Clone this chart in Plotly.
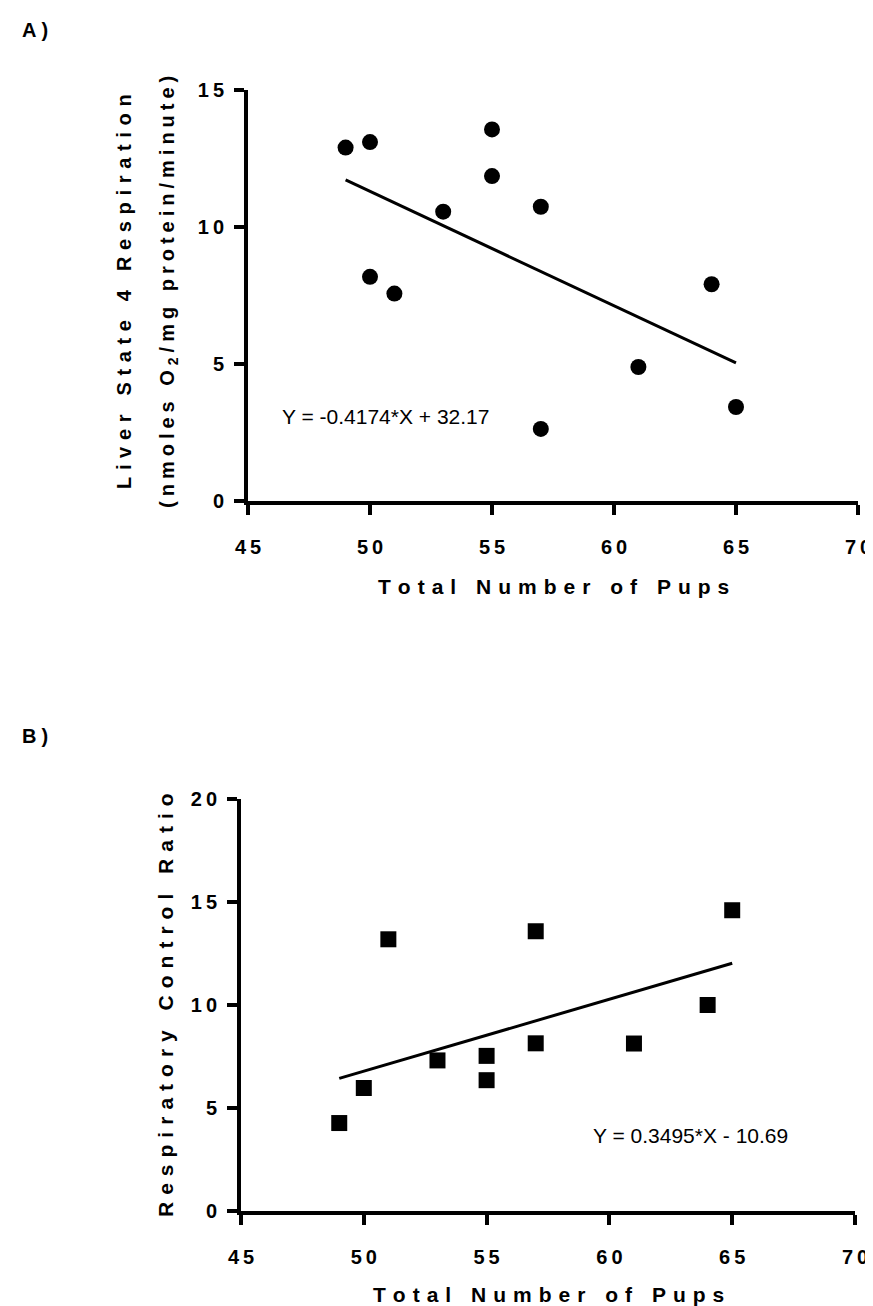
import plotly.graph_objects as go

# ---------------- data ----------------
pups_a = [49, 50, 50, 51, 53, 55, 55, 57, 57, 61, 64, 65]
state4_resp = [12.9, 13.1, 8.18, 7.57, 10.56, 13.56, 11.86, 10.74, 2.63, 4.89, 7.91, 3.43]
slope_a, intercept_a = -0.4174, 32.17

pups_b = [49, 50, 51, 53, 55, 55, 57, 57, 61, 64, 65]
rcr = [4.27, 5.97, 13.19, 7.31, 7.53, 6.35, 13.58, 8.14, 8.13, 10.0, 14.6]
slope_b, intercept_b = 0.3495, -10.69

x_ticks = [45, 50, 55, 60, 65, 70]
y_ticks_a = [0, 5, 10, 15]
y_ticks_b = [0, 5, 10, 15, 20]

eq_a = "Y = -0.4174*X + 32.17"
eq_b = "Y = 0.3495*X - 10.69"

FONT = "Liberation Sans, Arial, Helvetica, sans-serif"
SEP = "\u2004"      # letter spacing for titles
SEP2 = "\u2005"     # tighter spacing
TSEP = "\u2009"     # letter spacing for tick labels


def spaced(s, sep=SEP):
    return sep.join("\u00a0" if c == " " else c for c in s)


def tick_text(vals):
    return [spaced(str(v), TSEP) for v in vals]


W, H = 873, 1306
fig = go.Figure()

# Panel A
fig.add_trace(go.Scatter(x=pups_a, y=state4_resp, mode="markers",
                         marker=dict(symbol="circle", size=16, color="black", line=dict(width=0)),
                         xaxis="x", yaxis="y", showlegend=False))
xa = [min(pups_a), max(pups_a)]
fig.add_trace(go.Scatter(x=xa, y=[slope_a * v + intercept_a for v in xa], mode="lines",
                         line=dict(color="black", width=3), xaxis="x", yaxis="y", showlegend=False))

# Panel B
fig.add_trace(go.Scatter(x=pups_b, y=rcr, mode="markers",
                         marker=dict(symbol="square", size=16, color="black", line=dict(width=0)),
                         xaxis="x2", yaxis="y2", showlegend=False))
xb = [min(pups_b), max(pups_b)]
fig.add_trace(go.Scatter(x=xb, y=[slope_b * v + intercept_b for v in xb], mode="lines",
                         line=dict(color="black", width=3), xaxis="x2", yaxis="y2", showlegend=False))

tickfont = dict(family=FONT, size=20, color="black", weight="bold")
axis_common = dict(showline=True, linewidth=3.8, linecolor="black", ticks="outside",
                   ticklen=10, tickwidth=3.8, tickcolor="black", showgrid=False,
                   zeroline=False, tickfont=tickfont, automargin=False, fixedrange=True)

fig.update_layout(
    width=W, height=H,
    margin=dict(l=0, r=0, t=0, b=0),
    paper_bgcolor="white", plot_bgcolor="white",
    xaxis=dict(domain=[240 / W, 850 / W], range=[45, 70], tickvals=x_ticks,
               ticktext=tick_text(x_ticks), anchor="y", ticklabelstandoff=15, **axis_common),
    yaxis=dict(domain=[(H - 493) / H, (H - 82) / H], range=[0, 15], tickvals=y_ticks_a,
               ticktext=tick_text(y_ticks_a), anchor="x", ticklabelstandoff=6, **axis_common),
    xaxis2=dict(domain=[233 / W, 847 / W], range=[45, 70], tickvals=x_ticks,
                ticktext=tick_text(x_ticks), anchor="y2", ticklabelstandoff=15, **axis_common),
    yaxis2=dict(domain=[(H - 1203) / H, (H - 791) / H], range=[0, 20], tickvals=y_ticks_b,
                ticktext=tick_text(y_ticks_b), anchor="x2", ticklabelstandoff=6, **axis_common),
)

title_font = dict(family=FONT, size=20, color="black", weight="bold")
title_font21 = dict(family=FONT, size=21, color="black", weight="bold")
eq_font = dict(family=FONT, size=21, color="black")

ann = []
# panel letters
ann.append(dict(text=spaced("A)", "\u2005"), x=12 / W, y=(H - 22) / H, xref="paper", yref="paper",
                xanchor="left", yanchor="middle", showarrow=False, font=title_font))
ann.append(dict(text=spaced("B)", "\u2005"), x=12 / W, y=(H - 728) / H, xref="paper", yref="paper",
                xanchor="left", yanchor="middle", showarrow=False, font=title_font))
# x titles
ann.append(dict(text=spaced("Total Number of Pups"), x=(240 + 850) / 2 / W, y=(H - 578) / H,
                xref="paper", yref="paper", xanchor="center", yanchor="middle",
                showarrow=False, font=title_font21))
ann.append(dict(text=spaced("Total Number of Pups"), x=(233 + 847) / 2 / W, y=(H - 1286) / H,
                xref="paper", yref="paper", xanchor="center", yanchor="middle",
                showarrow=False, font=title_font21))
# y titles
ann.append(dict(text=spaced("Liver State 4 Respiration"), x=116 / W, y=(H - 284) / H,
                xref="paper", yref="paper", xanchor="center", yanchor="middle",
                textangle=-90, showarrow=False, font=title_font))
line2 = spaced("(nmoles O", SEP2) + SEP2 + "<sub>2</sub>" + SEP2 + spaced("/mg protein/minute)", SEP2)
ann.append(dict(text=line2, x=161 / W, y=(H - 284) / H,
                xref="paper", yref="paper", xanchor="center", yanchor="middle",
                textangle=-90, showarrow=False, font=title_font))
ann.append(dict(text=spaced("Respiratory Control Ratio"), x=157 / W, y=(H - 997) / H,
                xref="paper", yref="paper", xanchor="center", yanchor="middle",
                textangle=-90, showarrow=False, font=title_font21))
# equations
ann.append(dict(text=eq_a, x=46.3, y=3.07, xref="x", yref="y", xanchor="left",
                yanchor="middle", showarrow=False, font=eq_font))
ann.append(dict(text=eq_b, x=59.26, y=3.66, xref="x2", yref="y2", xanchor="left",
                yanchor="middle", showarrow=False, font=eq_font))

fig.update_layout(annotations=ann)

fig.write_html("out.html")
